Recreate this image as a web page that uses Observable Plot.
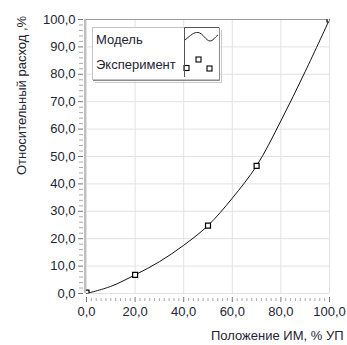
<!DOCTYPE html>
<html><head><meta charset="utf-8">
<script src="https://cdn.jsdelivr.net/npm/d3@7"></script>
<script src="https://cdn.jsdelivr.net/npm/@observablehq/plot@0.6"></script>
<style>
body{margin:0;background:#fff}
#wrap{position:relative;width:347px;height:345px}
#wrap svg{position:absolute;left:0;top:0}
</style>
</head><body><div id="wrap"></div>
<script>
const expX = [0, 20, 50, 70, 100];
const expY = [0.3, 6.8, 24.8, 46.6, 100];
const modelX = [0, 10, 20, 30, 40, 50, 60, 70, 80, 90, 100];
const modelY = [0, 2.6, 6.8, 11.6, 17.6, 24.8, 34.8, 46.6, 63, 81, 100];
const xTicks = [0, 20, 40, 60, 80, 100];
const yTicks = [0, 10, 20, 30, 40, 50, 60, 70, 80, 90, 100];
const xMinor = d3.range(0, 101, 2).filter(v => v % 20 !== 0);
const yMinor = d3.range(0, 101, 2).filter(v => v % 10 !== 0);
const xTitle = "Положение ИМ, % УП";
const yTitle = "Относительный расход ,%";
const legendLabels = ["Модель", "Эксперимент"];

const fmt = d => d.toFixed(1).replace(".", ",");
const expData = expX.map((x, i) => ({x, y: expY[i]}));
const modelData = modelX.map((x, i) => ({x, y: modelY[i]}));
const txt = "#1e2433";

const chart = Plot.plot({
  width: 347, height: 345,
  marginLeft: 86, marginRight: 18, marginTop: 19, marginBottom: 52,
  style: {fontFamily: "'Liberation Sans', Arial, sans-serif", fontSize: "13px", color: txt, background: "#fff"},
  x: {domain: [0, 100]},
  y: {domain: [0, 100]},
  marks: [
    Plot.gridX(xTicks, {stroke: "#e2e2e2", strokeOpacity: 1}),
    Plot.gridY(yTicks, {stroke: "#e2e2e2", strokeOpacity: 1}),
    Plot.ruleY([100], {stroke: "#9a9a9a"}),
    Plot.ruleX([0], {stroke: "#808080", dx: -1.5}),
    Plot.axisX(xTicks, {tickSize: 5, dy: 4, tickPadding: 4, tickFormat: fmt, stroke: "#777", fill: txt, label: null}),
    Plot.axisX(xMinor, {tickSize: 3, dy: 5, text: null, stroke: "#aaa", label: null}),
    Plot.axisY(yTicks, {tickSize: 5, dx: -3, tickPadding: 3, tickFormat: fmt, stroke: "#777", fill: txt, label: null}),
    Plot.axisY(yMinor, {tickSize: 4, dx: -3, text: null, stroke: "#aaa", label: null}),
    Plot.line(modelData, {x: "x", y: "y", curve: "catmull-rom", stroke: "#111", strokeWidth: 1}),
    Plot.dot(expData, {x: "x", y: "y", symbol: "square", r: 2.8, stroke: "#000", fill: "#fff", strokeWidth: 1.2, clip: true}),
    Plot.text([yTitle], {frameAnchor: "top-left", dx: -70, dy: 76, rotate: -90, textAnchor: "middle", fill: txt}),
    Plot.text([xTitle], {frameAnchor: "bottom-right", dx: 14, dy: 46, textAnchor: "end", fill: txt})
  ]
});
const wrap = document.getElementById("wrap");
wrap.appendChild(chart);

// Legend overlay
const NS = "http://www.w3.org/2000/svg";
const lg = d3.select(wrap).append("svg").attr("width", 347).attr("height", 345)
  .style("font-family", "'Liberation Sans', Arial, sans-serif").style("font-size", "13px");
lg.append("rect").attr("x", 92.5).attr("y", 27.5).attr("width", 127).attr("height", 52).attr("fill", "#fff").attr("stroke", "#c4c4c4");
lg.append("path").attr("d", "M219.5,28V80.5H93").attr("fill", "none").attr("stroke", "#8a8a8a");
lg.append("path").attr("d", "M221.5,30V82.5H95").attr("fill", "none").attr("stroke", "#c8c8c8");
lg.append("path").attr("d", "M184.5,77V27.5H219").attr("fill", "none").attr("stroke", "#555");
lg.append("text").attr("x", 96).attr("y", 43.5).attr("fill", txt).text(legendLabels[0]);
lg.append("text").attr("x", 96).attr("y", 68.5).attr("fill", txt).text(legendLabels[1]);
lg.append("path").attr("d", "M185,40C191,35 194,32 198,32.5C203,33 206,41 210,41C213,41 215,37 218,35")
  .attr("fill", "none").attr("stroke", "#222").attr("stroke-width", 1);
[[186.5, 68], [198.5, 59.5], [209.5, 68.5]].forEach(([cx, cy]) => {
  lg.append("rect").attr("x", cx - 2.5).attr("y", cy - 2.5).attr("width", 5).attr("height", 5)
    .attr("fill", "#fff").attr("stroke", "#000").attr("stroke-width", 1.1);
});
lg.append("line").attr("x1", 184.5).attr("x2", 184.5).attr("y1", 60).attr("y2", 77).attr("stroke", "#555");
</script>
</body></html>
